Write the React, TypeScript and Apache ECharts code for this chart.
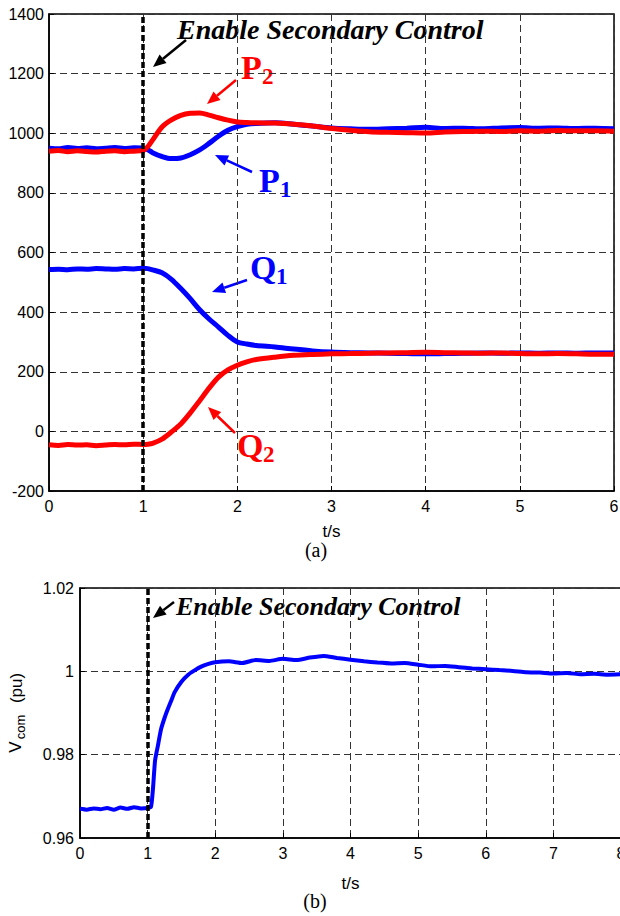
import React, { useEffect, useRef } from "react";
import * as echarts from "echarts";

// ---------- Data (a) ----------
const tA = [0, 0.1, 0.2, 0.3, 0.4, 0.5, 0.6, 0.7, 0.8, 0.9, 1.0, 1.05, 1.1, 1.2, 1.3, 1.4, 1.5, 1.6, 1.7, 1.8, 1.9, 2.0, 2.1, 2.2, 2.4, 2.6, 2.8, 3.0, 3.2, 3.4, 3.6, 3.8, 4.0, 4.2, 4.4, 4.6, 4.8, 5.0, 5.2, 5.4, 5.6, 5.8, 6.0];
const P1 = [950, 948, 952, 949, 951, 948, 950, 952, 949, 951, 950, 945, 935, 922, 915, 917, 928, 944, 966, 990, 1010, 1022, 1030, 1033, 1035, 1030, 1024, 1018, 1015, 1013, 1015, 1017, 1020, 1016, 1017, 1015, 1018, 1019, 1017, 1018, 1016, 1017, 1015];
const P2 = [940, 942, 938, 941, 939, 937, 940, 941, 938, 940, 942, 955, 977, 1021, 1045, 1060, 1067, 1068, 1061, 1052, 1044, 1038, 1036, 1035, 1034, 1030, 1024, 1016, 1010, 1005, 1003, 1002, 1001, 1004, 1006, 1007, 1006, 1008, 1007, 1009, 1008, 1008, 1007];
const Q1 = [543, 544, 542, 545, 544, 546, 545, 544, 546, 545, 547, 546, 542, 532, 510, 479, 445, 408, 377, 350, 322, 300, 293, 288, 283, 276, 270, 266, 264, 263, 262, 261, 260, 261, 262, 263, 262, 263, 262, 263, 262, 263, 263];
const Q2 = [-45, -47, -44, -46, -45, -48, -46, -44, -45, -43, -44, -43, -40, -26, -2, 25, 62, 103, 145, 182, 206, 222, 233, 241, 249, 255, 258, 260, 261, 262, 263, 264, 265, 264, 263, 262, 263, 261, 260, 261, 260, 259, 259];

// ---------- Data (b) ----------
const tB = [0, 0.1, 0.2, 0.3, 0.4, 0.5, 0.6, 0.7, 0.8, 0.9, 1.0, 1.05, 1.08, 1.11, 1.15, 1.2, 1.25, 1.3, 1.35, 1.4, 1.5, 1.6, 1.7, 1.8, 1.9, 2.0, 2.2, 2.4, 2.6, 2.8, 3.0, 3.2, 3.4, 3.6, 3.8, 4.0, 4.2, 4.4, 4.6, 4.8, 5.0, 5.2, 5.4, 5.6, 5.8, 6.0, 6.2, 6.4, 6.6, 6.8, 7.0, 7.2, 7.4, 7.6, 7.8, 8.0];
const Vcom = [0.967, 0.9668, 0.9671, 0.9669, 0.9672, 0.9668, 0.9673, 0.967, 0.9674, 0.9671, 0.9672, 0.9675, 0.972, 0.9786, 0.982, 0.9862, 0.9888, 0.991, 0.993, 0.995, 0.9975, 0.9992, 1.0003, 1.0012, 1.0018, 1.0022, 1.0024, 1.002, 1.0027, 1.0025, 1.003, 1.0027, 1.0033, 1.0037, 1.0032, 1.0028, 1.0024, 1.0021, 1.0019, 1.002, 1.0016, 1.0012, 1.0013, 1.001, 1.0007, 1.0005, 1.0003, 1.0001, 0.9998, 0.9997, 0.9995, 0.9996, 0.9993, 0.9994, 0.9992, 0.9993];

const xTicksA = { min: 0, max: 6, interval: 1 };
const yTicksA = { min: -200, max: 1400, interval: 200 };
const xTicksB = { min: 0, max: 8, interval: 1 };
const yTicksB = { min: 0.96, max: 1.02, interval: 0.02 };
const enableTime = 1;

const pairs = (t: number[], v: number[]) => t.map((x, i) => [x, v[i]]);

function arrow(x1: number, y1: number, x2: number, y2: number, color: string, w = 2.5) {
  const ang = Math.atan2(y2 - y1, x2 - x1);
  const L = 13, W = 5.5;
  const c = Math.cos(ang), s = Math.sin(ang);
  const bx = x2 - L * c, by = y2 - L * s;
  return {
    type: "group",
    children: [
      { type: "line", shape: { x1, y1, x2: bx, y2: by }, style: { stroke: color, lineWidth: w } },
      {
        type: "polygon",
        shape: { points: [[x2, y2], [bx + W * s, by - W * c], [bx - W * s, by + W * c]] },
        style: { fill: color },
      },
    ],
  };
}

const serif = "'Liberation Serif', 'Times New Roman', serif";
const sans = "'Liberation Sans', Arial, sans-serif";

function label(x: number, y: number, main: string, sub: string, color: string, subDx: number) {
  return {
    type: "group",
    children: [
      { type: "text", x, y, style: { text: main, font: `bold 34px ${serif}`, fill: color, verticalAlign: "middle", align: "left" } },
      { type: "text", x: x + subDx, y: y + 9, style: { text: sub, font: `bold 23px ${serif}`, fill: color, verticalAlign: "middle", align: "left" } },
    ],
  };
}

export default function App() {
  const ref = useRef<HTMLDivElement>(null);
  useEffect(() => {
    document.body.style.margin = "0";
    const chart = echarts.init(ref.current!, undefined, { renderer: "svg" });
    const split = { show: true, lineStyle: { color: "#333", type: [7, 4], width: 1 } };
    const axisLine = { show: true, onZero: false, lineStyle: { color: "#000", width: 1.5 } };
    const tick = { show: true, inside: true, length: 5, lineStyle: { color: "#000" } };
    const lab = { color: "#000", fontSize: 16, fontFamily: sans, formatter: (v: number) => String(+v.toFixed(2)) };
    const vline = {
      silent: true,
      symbol: ["none", "none"],
      label: { show: false },
      lineStyle: { color: "#000", width: 3.5, type: [6, 3], cap: "butt" },
      data: [{ xAxis: enableTime }],
    };
    chart.setOption({
      animation: false,
      grid: [
        { left: 49, top: 14, width: 565, height: 477, show: true, borderColor: "#000", borderWidth: 1.5, containLabel: false, outerBoundsMode: "none" },
        { left: 80, top: 588, width: 541, height: 250, show: true, borderColor: "#000", borderWidth: 1.5, containLabel: false, outerBoundsMode: "none" },
      ],
      xAxis: [
        {
          gridIndex: 0, type: "value", ...xTicksA, axisLine, axisTick: tick, splitLine: split,
          axisLabel: { ...lab, margin: 7 }, name: "t/s", nameLocation: "middle", nameGap: 32,
          nameTextStyle: { color: "#000", fontSize: 17, fontFamily: sans },
        },
        {
          gridIndex: 1, type: "value", ...xTicksB, axisLine, axisTick: tick, splitLine: split,
          axisLabel: { ...lab, margin: 7 }, name: "t/s", nameLocation: "middle", nameGap: 37,
          nameTextStyle: { color: "#000", fontSize: 17, fontFamily: sans },
        },
      ],
      yAxis: [
        { gridIndex: 0, type: "value", ...yTicksA, axisLine, axisTick: tick, splitLine: split, axisLabel: { ...lab, margin: 5 } },
        { gridIndex: 1, type: "value", ...yTicksB, axisLine, axisTick: tick, splitLine: split, axisLabel: { ...lab, margin: 6 } },
      ],
      series: [
        { type: "line", name: "P1", xAxisIndex: 0, yAxisIndex: 0, data: pairs(tA, P1), showSymbol: false, smooth: 0.3, lineStyle: { color: "#0000ff", width: 5 } },
        { type: "line", name: "Q1", xAxisIndex: 0, yAxisIndex: 0, data: pairs(tA, Q1), showSymbol: false, smooth: 0.3, lineStyle: { color: "#0000ff", width: 5 } },
        { type: "line", name: "P2", xAxisIndex: 0, yAxisIndex: 0, data: pairs(tA, P2), showSymbol: false, smooth: 0.3, lineStyle: { color: "#ff0000", width: 5 } },
        { type: "line", name: "Q2", xAxisIndex: 0, yAxisIndex: 0, data: pairs(tA, Q2), showSymbol: false, smooth: 0.3, lineStyle: { color: "#ff0000", width: 5 }, markLine: vline },
        { type: "line", name: "Vcom", xAxisIndex: 1, yAxisIndex: 1, data: pairs(tB, Vcom), showSymbol: false, smooth: 0.2, lineStyle: { color: "#0000ff", width: 4 }, markLine: vline },
      ],
      graphic: [
        { type: "text", x: 177, y: 29, style: { text: "Enable Secondary Control", font: `italic bold 28px ${serif}`, fill: "#000", verticalAlign: "middle" } },
        arrow(186, 40, 153, 67, "#000"),
        label(241, 67, "P", "2", "#ff0000", 21),
        arrow(236, 80, 207, 104, "#ff0000"),
        label(259, 180, "P", "1", "#0000ff", 21),
        arrow(252, 172, 215, 155, "#0000ff"),
        label(250, 267, "Q", "1", "#0000ff", 26),
        arrow(247, 280, 212, 292, "#0000ff"),
        label(237, 445, "Q", "2", "#ff0000", 26),
        arrow(235, 433, 208, 407, "#ff0000"),
        { type: "text", x: 316, y: 550, style: { text: "(a)", font: `20px ${serif}`, fill: "#000", align: "center", verticalAlign: "middle" } },
        { type: "text", x: 176, y: 606, style: { text: "Enable Secondary Control", font: `italic bold 26px ${serif}`, fill: "#000", verticalAlign: "middle" } },
        arrow(174, 602, 153, 618, "#000"),
        { type: "text", x: 315, y: 901, style: { text: "(b)", font: `20px ${serif}`, fill: "#000", align: "center", verticalAlign: "middle" } },
        { type: "text", x: 15, y: 747, rotation: Math.PI / 2, style: { text: "V", font: `17px ${sans}`, fill: "#000", align: "center", verticalAlign: "middle" } },
        { type: "text", x: 20, y: 727, rotation: Math.PI / 2, style: { text: "com", font: `13px ${sans}`, fill: "#000", align: "center", verticalAlign: "middle" } },
        { type: "text", x: 16, y: 688, rotation: Math.PI / 2, style: { text: "(pu)", font: `17px ${sans}`, fill: "#000", align: "center", verticalAlign: "middle" } },
      ],
    });
    return () => chart.dispose();
  }, []);
  return <div ref={ref} style={{ position: "absolute", left: 0, top: 0, width: 620, height: 916 }} />;
}
